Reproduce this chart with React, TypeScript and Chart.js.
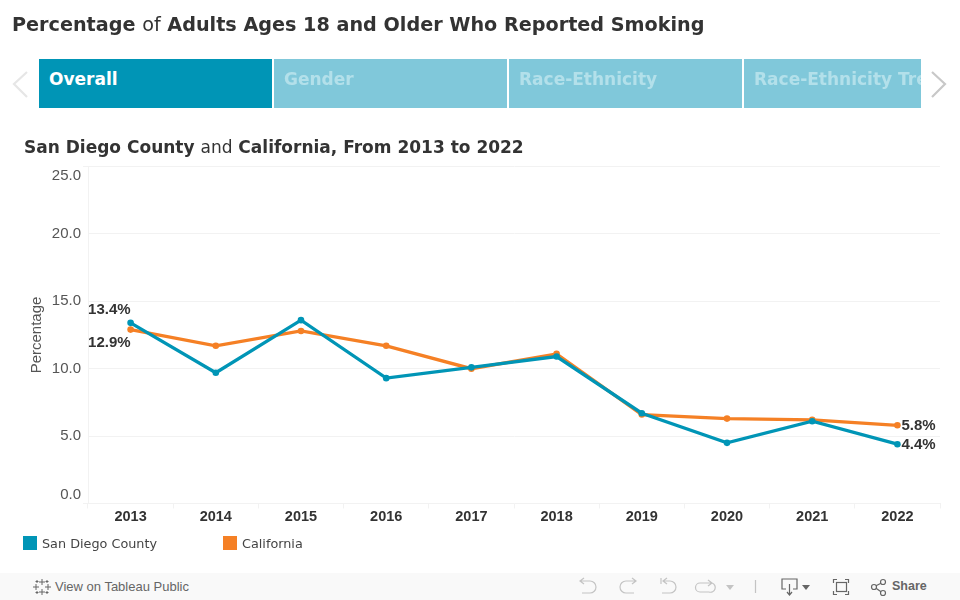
import React, { useEffect, useRef } from "react";
import { Chart, registerables } from "chart.js";

Chart.register(...registerables);

const years = ["2013", "2014", "2015", "2016", "2017", "2018", "2019", "2020", "2021", "2022"];
const sanDiego = [13.4, 9.7, 13.6, 9.3, 10.1, 10.9, 6.7, 4.5, 6.1, 4.4];
const california = [12.9, 11.7, 12.8, 11.7, 10.0, 11.1, 6.6, 6.3, 6.2, 5.8];
const seriesNames = ["San Diego County", "California"];
const seriesColors = ["#0095b6", "#f58025"];
const tabs = ["Overall", "Gender", "Race-Ethnicity", "Race-Ethnicity Trend"];

const sans = '"DejaVu Sans", sans-serif';
const arial = '"Liberation Sans", Arial, sans-serif';
const grid = "#f2f2f2";

const endLabels = {
  id: "endLabels",
  afterDatasetsDraw(chart: any) {
    const ctx = chart.ctx;
    ctx.save();
    ctx.font = `bold 15px ${arial}`;
    ctx.fillStyle = "#333333";
    ctx.textBaseline = "middle";
    const sdMeta = chart.getDatasetMeta(0).data;
    const caMeta = chart.getDatasetMeta(1).data;
    const last = years.length - 1;
    const fmt = (v: number) => v.toFixed(1) + "%";
    ctx.textAlign = "right";
    ctx.fillText(fmt(sanDiego[0]), sdMeta[0].x, sdMeta[0].y - 13.5);
    ctx.fillText(fmt(california[0]), caMeta[0].x, caMeta[0].y + 13.5);
    ctx.textAlign = "left";
    ctx.fillText(fmt(california[last]), caMeta[last].x + 4, caMeta[last].y + 1);
    ctx.fillText(fmt(sanDiego[last]), sdMeta[last].x + 4, sdMeta[last].y + 1);
    ctx.restore();
  },
};

const abs = (left: number, top: number, extra: any = {}): any => ({
  position: "absolute",
  left,
  top,
  whiteSpace: "nowrap",
  ...extra,
});

function Chevron({ x, color, flip }: { x: number; color: string; flip?: boolean }) {
  return (
    <svg style={abs(x, 70)} width="18" height="28" viewBox="0 0 18 28">
      <polyline
        points={flip ? "2,2 15,14 2,27" : "15,2 2,14 15,27"}
        fill="none"
        stroke={color}
        strokeWidth="2.2"
      />
    </svg>
  );
}

function Footer() {
  const stroke = "#c4c4c4";
  const dark = "#666666";
  return (
    <div style={abs(0, 573, { width: 960, height: 27, background: "#f9f9f9" })}>
      <svg style={abs(32, 4)} width="20" height="20" viewBox="0 0 20 20" stroke={dark} strokeWidth="1" fill="none">
        <path d="M10 2v6M7 5h6M10 12v6M7 15h6M4 7v6M1 10h6M16 7v6M13 10h6M5 3v3M3.5 4.5h3M15 3v3M13.5 4.5h3M5 14v3M3.5 15.5h3M15 14v3M13.5 15.5h3" />
      </svg>
      <div style={abs(55, 6, { font: `13px ${arial}`, color: "#666666" })}>View on Tableau Public</div>
      <svg style={abs(560, 0)} width="400" height="27" viewBox="0 0 400 27" fill="none" stroke={stroke} strokeWidth="1.2">
        <path d="M21 8h9a6 6 0 0 1 0 12H22M24 5l-4 3 4 3" />
        <path d="M75 8H66a6 6 0 0 0 0 12h8M72 5l4 3-4 3" />
        <path d="M101 5v6M104 8h6a6 6 0 0 1 0 12h-8M107 5l-4 3 4 3" />
        <path d="M152 10h-12a4.500 4.500 0 0 0 0 9h9a4.500 4.500 0 0 0 3-9M148 7l4 3-4 3" />
        <path d="M166 12h8l-4 5z" fill={stroke} stroke="none" />
        <path d="M195.500 7v13" />
        <g stroke={dark}>
          <path d="M226 16h-4V6h15v10h-4M229.500 11v10M227 19l2.500 3 2.500-3" />
          <path d="M277 6.500h-3.500v3.500M285 6.500h3.500v3.500M277 21.500h-3.500V18M285 21.500h3.500V18" />
          <rect x="276.500" y="9.500" width="10" height="9" />
          <circle cx="314" cy="14" r="2.500" />
          <circle cx="323" cy="9" r="2.500" />
          <circle cx="323" cy="20" r="2.500" />
          <path d="M316 12.800l5-2.600M316 15.200l5 3.600" />
        </g>
        <path d="M242 12h8l-4 5z" fill={dark} stroke="none" />
      </svg>
      <div style={abs(892, 6, { font: `bold 12.500px ${arial}`, color: "#666666" })}>Share</div>
    </div>
  );
}

export default function App() {
  const ref = useRef<HTMLCanvasElement>(null);

  useEffect(() => {
    const chart = new Chart(ref.current as HTMLCanvasElement, {
      type: "line",
      plugins: [endLabels],
      data: {
        labels: years,
        datasets: [
          {
            label: seriesNames[0],
            data: sanDiego,
            borderColor: seriesColors[0],
            backgroundColor: seriesColors[0],
            borderWidth: 3.3,
            pointRadius: 3.3,
            pointBorderWidth: 0,
            tension: 0,
          },
          {
            label: seriesNames[1],
            data: california,
            borderColor: seriesColors[1],
            backgroundColor: seriesColors[1],
            borderWidth: 3.3,
            pointRadius: 3.3,
            pointBorderWidth: 0,
            tension: 0,
          },
        ],
      },
      options: {
        animation: false,
        responsive: false,
        layout: { padding: { left: 28, right: 20, top: 166.5, bottom: 66.5 } },
        plugins: { legend: { display: false }, tooltip: { enabled: false } },
        scales: {
          x: {
            offset: true,
            afterFit: (s: any) => {
              s.height = 30;
            },
            grid: {
              offset: true,
              drawOnChartArea: false,
              tickLength: 5,
              color: grid,
              tickColor: grid,
            },
            border: { color: grid },
            ticks: {
              font: { family: arial, size: 14.5, weight: "bold" },
              color: "#333333",
              padding: 0,
              maxRotation: 0,
            },
          },
          y: {
            min: 0,
            max: 25,
            afterFit: (s: any) => {
              s.width = 60;
            },
            title: {
              display: true,
              text: "Percentage",
              font: { family: arial, size: 15 },
              color: "#555555",
              padding: 0,
            },
            grid: {
              color: grid,
              tickLength: 5,
              tickColor: (c: any) =>
                c.tick && (c.tick.value === 0 || c.tick.value === 25) ? grid : "transparent",
            },
            border: { color: grid },
            ticks: {
              stepSize: 5,
              font: { family: arial, size: 15 },
              color: "#555555",
              padding: 2,
              // The end labels sit inside the axis range: a blank line pushes them inward.
              callback: (v: any) => {
                const s = Number(v).toFixed(1);
                if (Number(v) === 25) return ["", s];
                if (Number(v) === 0) return [s, ""];
                return s;
              },
            },
          },
        },
      } as any,
    });
    return () => chart.destroy();
  }, []);

  const tabX = [39, 274, 509, 744];
  const tabW = [233, 233, 233, 177];

  return (
    <div style={abs(0, 0, { position: "fixed", width: 960, height: 600, background: "#fff", overflow: "hidden" })}>
      <canvas ref={ref} width={960} height={600} style={abs(0, 0, { display: "block" })} />
      <div style={abs(12, 13, { font: `bold 19.200px ${sans}`, color: "#333333" })}>
        Percentage <span style={{ fontWeight: 400 }}>of</span> Adults Ages 18 and Older Who Reported Smoking
      </div>
      {tabs.map((t, i) => (
        <div
          key={t}
          style={abs(tabX[i], 59, {
            width: tabW[i],
            height: 49,
            overflow: "hidden",
            background: i === 0 ? "#0095b6" : "#80c8da",
            color: i === 0 ? "#ffffff" : "#b3e0ea",
            font: `bold 17px ${sans}`,
            lineHeight: "41px",
            paddingLeft: 10,
            boxSizing: "border-box",
          })}
        >
          {t}
        </div>
      ))}
      <Chevron x={12} color="#e6e6e6" />
      <Chevron x={930} color="#c8c8c8" flip />
      <div style={abs(24, 137, { font: `bold 17px ${sans}`, color: "#333333" })}>
        San Diego County <span style={{ fontWeight: 400 }}>and</span> California, From 2013 to 2022
      </div>
      {seriesNames.map((n, i) => (
        <React.Fragment key={n}>
          <div style={abs(i === 0 ? 23 : 223, 536, { width: 14, height: 14, background: seriesColors[i] })} />
          <div style={abs(i === 0 ? 42 : 242, 536, { font: `12.800px ${sans}`, color: "#444444" })}>{n}</div>
        </React.Fragment>
      ))}
      <Footer />
    </div>
  );
}
